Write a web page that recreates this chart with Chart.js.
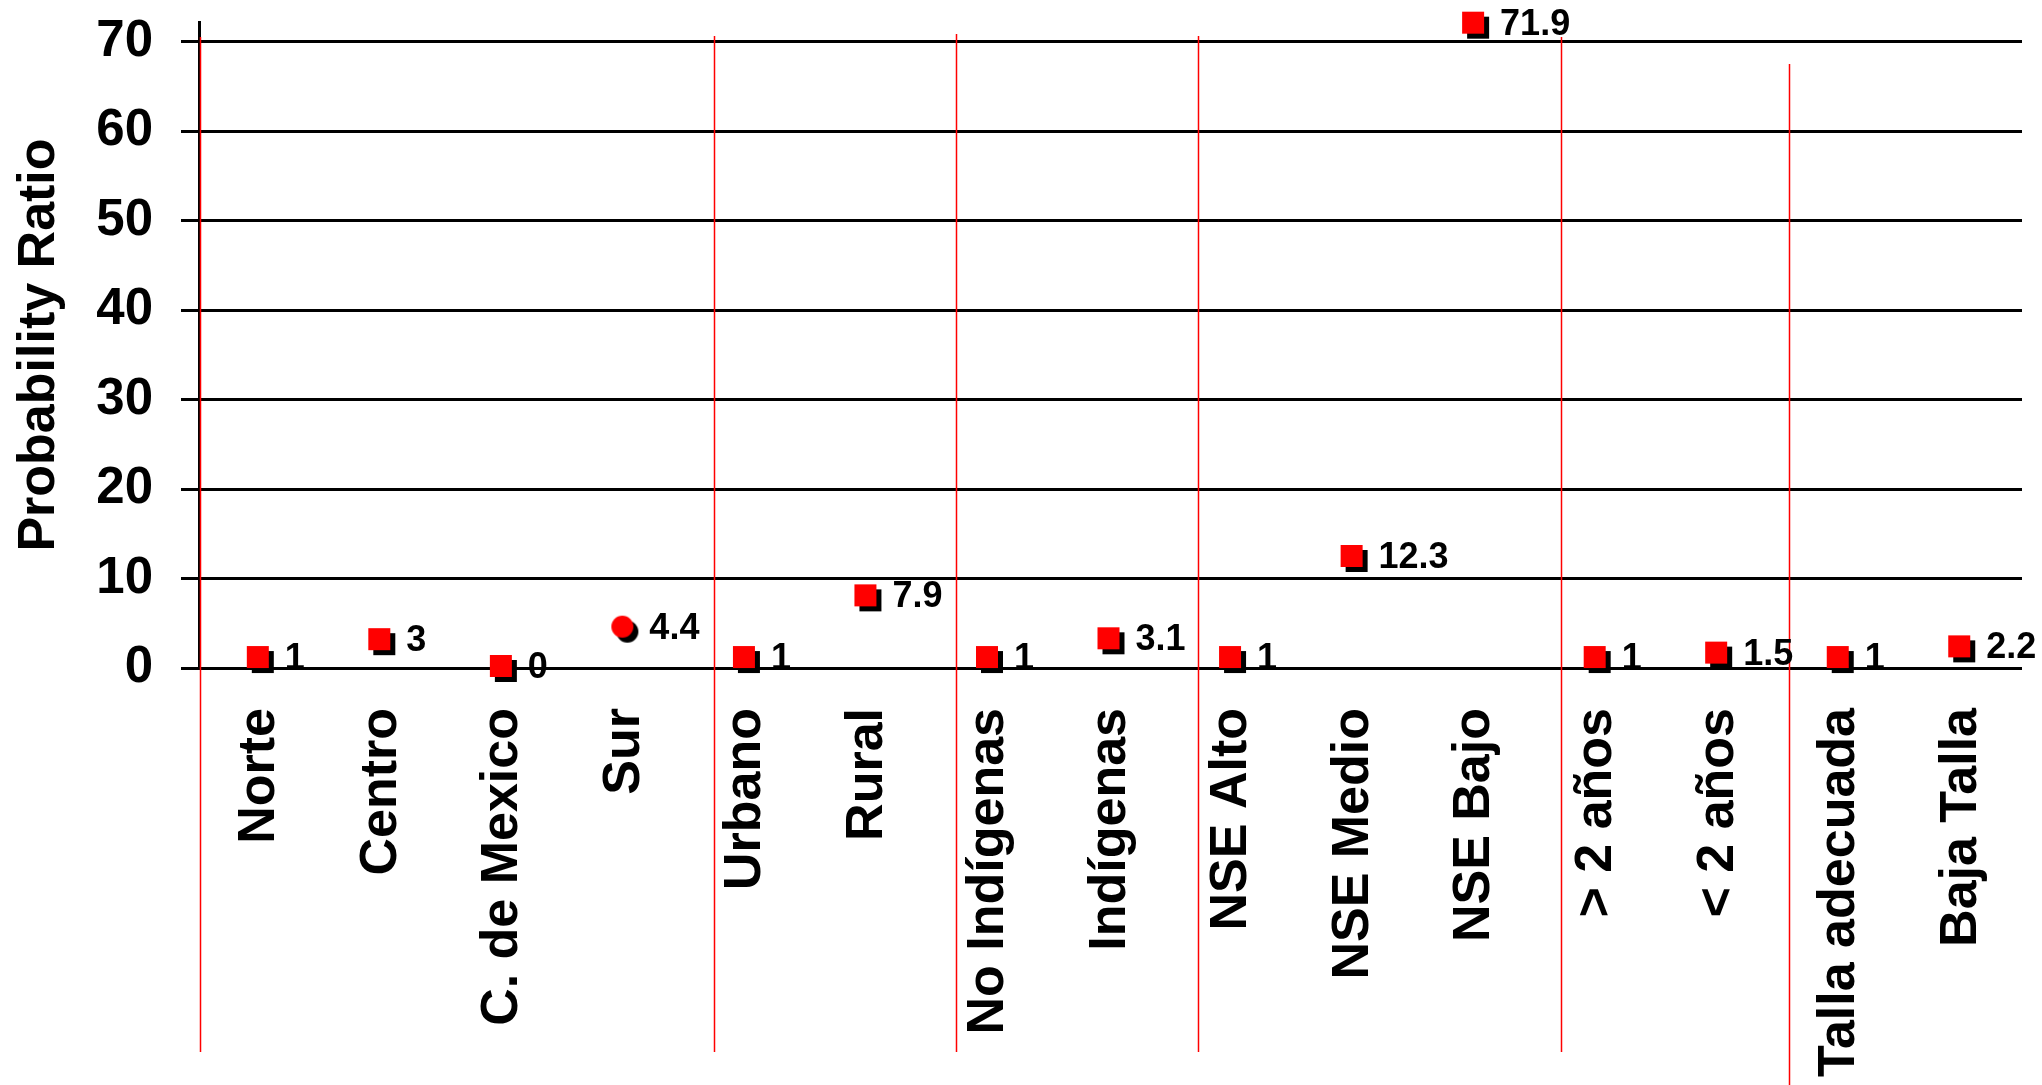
<!DOCTYPE html>
<html>
<head>
<meta charset="utf-8">
<script src="https://cdn.jsdelivr.net/npm/chart.js@4"></script>
<style>
html,body{margin:0;padding:0;background:#fff}
#wrap{width:2042px;height:1085px}
</style>
</head>
<body>
<div id="wrap"><canvas id="prChart"></canvas></div>
<script>
// categories on the x axis
const categories=['Norte','Centro','C. de Mexico','Sur','Urbano','Rural','No Indígenas','Indígenas','NSE Alto','NSE Medio','NSE Bajo','> 2 años','< 2 años','Talla adecuada','Baja Talla']
// probability ratio per category
const ratios=[1,3,0,4.4,1,7.9,1,3.1,1,12.3,71.9,1,1.5,1,2.2]
// marker shape per category
const markers=['sq','sq','sq','dot','sq','sq','sq','sq','sq','sq','sq','sq','sq','sq','sq']
const yTicks=[0,10,20,30,40,50,60,70]
// group separators, in category units
const groupBreaks=[-0.49,3.74,5.73,7.72,10.71,12.58]

const FONT='"Liberation Sans", Arial, sans-serif'

function makeMarker(kind){
const c=document.createElement('canvas')
c.width=32;c.height=32
const g=c.getContext('2d')
if(kind==='sq'){
g.fillStyle='#000';g.fillRect(8,8,22,22)
g.fillStyle='#ff0000';g.fillRect(3,3,22,22)
}else{
g.fillStyle='#000';g.beginPath();g.arc(19,19,11,0,Math.PI*2);g.fill()
g.fillStyle='#ff0000';g.beginPath();g.arc(14,14,11,0,Math.PI*2);g.fill()
}
return c
}
const sqImg=makeMarker('sq')
const dotImg=makeMarker('dot')

function noPad(s){
s.paddingTop=0;s.paddingBottom=0;s.paddingLeft=0;s.paddingRight=0
}

const decorations={
id:'decorations',
afterDatasetsDraw(chart){
const ctx=chart.ctx
const x=chart.scales.x
const tops=[37,36,34,36,37,64]
const bottoms=[1052,1052,1052,1052,1052,1085]
ctx.save()
ctx.strokeStyle='#ff0000'
ctx.lineWidth=1.5
groupBreaks.forEach((b,i)=>{
const px=Math.round(x.getPixelForValue(b))+0.5
ctx.beginPath()
ctx.moveTo(px,tops[i])
ctx.lineTo(px,bottoms[i])
ctx.stroke()
})
// value labels
const meta=chart.getDatasetMeta(0)
ctx.fillStyle='#000'
ctx.font='bold 36px '+FONT
ctx.textBaseline='middle'
ctx.textAlign='left'
meta.data.forEach((pt,i)=>{
ctx.fillText(String(ratios[i]),pt.x+25,pt.y)
})
ctx.restore()
}
}

new Chart(
document.getElementById('prChart'),
{
type:'line',
data:{
labels:categories,
datasets:[{
label:'Probability Ratio',
data:ratios,
showLine:false,
pointStyle:markers.map(m=>m==='sq'?sqImg:dotImg),
pointRadius:16,
pointHoverRadius:16,
clip:false
}]
},
options:{
responsive:true,
maintainAspectRatio:false,
animation:false,
events:[],
layout:{padding:{top:22,right:20,left:0,bottom:0}},
plugins:{legend:{display:false},tooltip:{enabled:false}},
scales:{
x:{
type:'category',
offset:true,
grid:{display:false,drawTicks:false},
border:{display:false},
ticks:{
autoSkip:false,
maxRotation:90,
minRotation:90,
padding:40,
color:'#000',
font:{family:FONT,size:52,weight:'bold'}
},
afterFit(s){s.height=417;noPad(s)}
},
y:{
min:0,
max:72.2,
afterBuildTicks(s){s.ticks=yTicks.map(v=>({value:v}))},
grid:{color:'#000',lineWidth:3,tickLength:18,tickColor:'#000',tickWidth:3},
border:{display:true,color:'#000',width:3},
ticks:{
padding:28,
color:'#000',
font:{family:FONT,size:51,weight:'bold'}
},
title:{
display:true,
text:'Probability Ratio',
color:'#000',
padding:{top:8,bottom:0},
font:{family:FONT,size:52,weight:'bold'}
},
afterFit(s){s.width=199;noPad(s)}
}
}
},
plugins:[decorations]
})
</script>
</body>
</html>
